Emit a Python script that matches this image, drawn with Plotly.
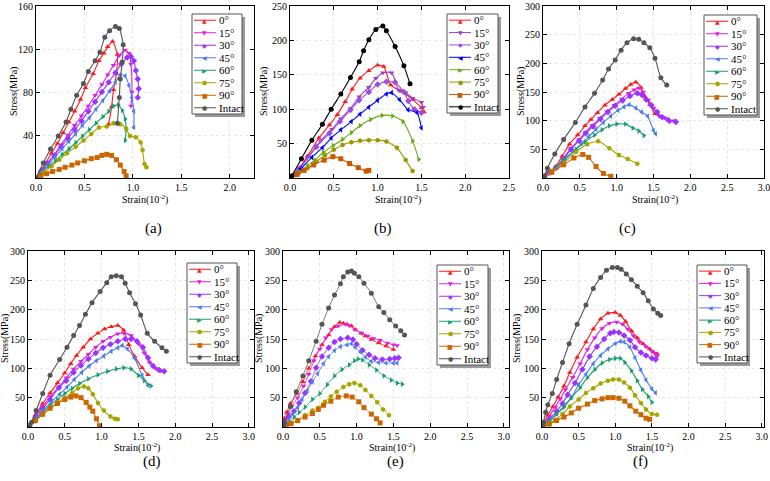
import plotly.graph_objects as go

NAMES = ["0°", "15°", "30°", "45°", "60°", "75°", "90°", "Intact"]
SYMBOLS = ["triangle-up", "triangle-down", "diamond", "triangle-left",
           "triangle-right", "hexagon", "square", "circle"]
GLYPHS = ["▲", "▼", "◆", "◀", "▶", "⬢", "■", "●"]
COLORS_STD = ["#FF1A1A", "#DD22DD", "#9933FF", "#4C7CF0", "#1A9E6E", "#A6A600", "#CC6600", "#555555"]
COLORS_B = ["#FF1A1A", "#9A3FD0", "#9C4DE0", "#0000FF", "#66AA11", "#9A9A00", "#CC5500", "#000000"]

# ---------------- panel (a) ----------------
A_DATA = {
    "0°": ([0, 0.05, 0.1, 0.16, 0.22, 0.28, 0.34, 0.4, 0.46, 0.51, 0.59, 0.65, 0.7, 0.74, 0.79, 0.84, 0.83, 0.80, 0.78, 0.75],
           [0, 7, 14, 23, 32, 42, 52, 62, 73, 84, 97, 109, 116, 122, 127, 115, 97, 82, 66, 50]),
    "15°": ([0, 0.06, 0.12, 0.19, 0.26, 0.33, 0.4, 0.47, 0.54, 0.61, 0.68, 0.74, 0.8, 0.86, 0.92, 0.96, 0.98, 0.99, 0.98],
            [0, 7, 14, 22, 31, 40, 49, 58, 67, 77, 87, 96, 105, 114, 119, 116, 106, 80, 67]),
    "30°": ([0, 0.06, 0.12, 0.19, 0.26, 0.33, 0.4, 0.47, 0.54, 0.61, 0.68, 0.75, 0.82, 0.88, 0.94, 0.98, 1.01, 1.03, 1.05, 1.06, 1.05],
            [0, 7, 14, 21, 29, 37, 45, 53, 62, 71, 80, 89, 98, 106, 112, 113, 109, 100, 92, 83, 75]),
    "45°": ([0, 0.06, 0.13, 0.2, 0.27, 0.34, 0.41, 0.48, 0.55, 0.62, 0.69, 0.76, 0.82, 0.87, 0.92, 0.96, 0.99, 1.01, 1.01],
            [0, 6, 13, 20, 27, 34, 41, 49, 56, 64, 72, 81, 89, 96, 95, 86, 75, 62, 47]),
    "60°": ([0, 0.06, 0.13, 0.2, 0.27, 0.34, 0.41, 0.48, 0.55, 0.62, 0.69, 0.75, 0.8, 0.85, 0.89, 0.92, 0.93, 0.92],
            [0, 5, 11, 16, 22, 27, 33, 39, 45, 51, 57, 62, 67, 68, 63, 55, 45, 35]),
    "75°": ([0, 0.08, 0.16, 0.24, 0.32, 0.41, 0.49, 0.57, 0.65, 0.73, 0.8, 0.87, 0.93, 0.97, 1.03, 1.08, 1.1, 1.12, 1.14],
            [0, 5, 11, 17, 23, 29, 35, 41, 47, 48, 51, 50, 46, 39, 38, 33, 26, 13, 10]),
    "90°": ([0, 0.05, 0.11, 0.17, 0.24, 0.3, 0.37, 0.43, 0.5, 0.57, 0.63, 0.68, 0.73, 0.78, 0.83, 0.87, 0.91, 0.93],
            [0, 2, 4, 6, 8, 10, 12, 14, 16, 18, 19, 21, 22, 21, 17, 12, 6, 2]),
    "Intact": ([0, 0.075, 0.15, 0.23, 0.31, 0.36, 0.42, 0.49, 0.54, 0.61, 0.66, 0.71, 0.76, 0.82, 0.86, 0.9, 0.89, 0.87, 0.86, 0.84],
               [0, 14, 27, 39, 52, 64, 77, 88, 99, 109, 117, 131, 137, 141, 139, 124, 108, 92, 75, 51]),
}

# ---------------- panel (b) ----------------
B_DATA = {
    "0°": ([0.02, 0.1, 0.2, 0.33, 0.45, 0.54, 0.63, 0.71, 0.8, 0.9, 1.0, 1.07, 1.15, 1.27, 1.4, 1.5, 1.53],
           [3, 14, 32, 58, 77, 92, 111, 129, 145, 156, 164, 162, 135, 126, 114, 102, 96]),
    "15°": ([0.02, 0.1, 0.2, 0.35, 0.48, 0.58, 0.69, 0.79, 0.9, 0.98, 1.06, 1.16, 1.24, 1.32, 1.4, 1.5, 1.52],
            [3, 13, 30, 54, 71, 86, 101, 118, 132, 145, 153, 153, 128, 124, 116, 110, 103]),
    "30°": ([0.02, 0.12, 0.3, 0.45, 0.57, 0.69, 0.79, 0.9, 1.0, 1.1, 1.2, 1.3, 1.35, 1.42, 1.5],
            [3, 15, 45, 65, 82, 99, 113, 125, 136, 140, 139, 125, 112, 100, 95]),
    "45°": ([0.02, 0.12, 0.25, 0.37, 0.47, 0.58, 0.7, 0.8, 0.9, 1.0, 1.1, 1.16, 1.25, 1.35, 1.45, 1.5],
            [2, 13, 30, 44, 58, 70, 82, 93, 103, 113, 122, 124, 114, 99, 95, 73]),
    "60°": ([0.02, 0.1, 0.2, 0.28, 0.38, 0.49, 0.6, 0.7, 0.8, 0.92, 1.05, 1.17, 1.29, 1.4, 1.47],
            [2, 9, 18, 26, 37, 47, 56, 66, 76, 85, 91, 90, 82, 54, 27]),
    "75°": ([0.02, 0.1, 0.2, 0.3, 0.4, 0.5, 0.6, 0.7, 0.8, 0.9, 1.0, 1.1, 1.22, 1.32, 1.4],
            [2, 7, 14, 24, 33, 41, 48, 52, 54, 55, 55, 53, 44, 26, 10]),
    "90°": ([0.02, 0.08, 0.16, 0.27, 0.39, 0.49, 0.58, 0.68, 0.78, 0.87, 0.9],
            [1, 5, 11, 19, 26, 31, 28, 21, 15, 10, 11]),
    "Intact": ([0.02, 0.13, 0.25, 0.37, 0.47, 0.58, 0.69, 0.79, 0.84, 0.9, 0.98, 1.06, 1.1, 1.2, 1.3, 1.37],
               [3, 28, 55, 78, 100, 122, 146, 169, 185, 201, 216, 221, 214, 191, 163, 137]),
}

# ---------------- panel (c) ----------------
C_DATA = {
    "0°": ([0.02, 0.08, 0.17, 0.26, 0.36, 0.47, 0.57, 0.65, 0.74, 0.84, 0.94, 1.03, 1.12, 1.19, 1.26, 1.33, 1.38, 1.45, 1.52, 1.6],
           [3, 10, 20, 38, 59, 75, 91, 102, 114, 127, 137, 146, 156, 163, 167, 158, 142, 128, 112, 107]),
    "15°": ([0.02, 0.08, 0.18, 0.28, 0.38, 0.49, 0.58, 0.67, 0.77, 0.87, 0.97, 1.07, 1.16, 1.24, 1.3, 1.36, 1.43, 1.5, 1.58, 1.65, 1.72, 1.78, 1.81],
            [3, 9, 19, 35, 52, 67, 80, 92, 104, 116, 127, 138, 148, 154, 157, 150, 136, 122, 108, 105, 98, 100, 97]),
    "30°": ([0.02, 0.08, 0.18, 0.28, 0.38, 0.49, 0.58, 0.68, 0.78, 0.88, 0.98, 1.08, 1.18, 1.28, 1.34, 1.4, 1.47, 1.55, 1.62, 1.7, 1.8],
            [3, 9, 18, 33, 50, 65, 78, 90, 103, 115, 126, 135, 143, 148, 145, 137, 127, 115, 106, 101, 98]),
    "45°": ([0.02, 0.1, 0.2, 0.3, 0.42, 0.52, 0.62, 0.72, 0.82, 0.92, 1.02, 1.1, 1.17, 1.26, 1.34, 1.42, 1.5, 1.53],
            [2, 9, 19, 32, 47, 60, 72, 85, 97, 108, 118, 124, 128, 122, 115, 108, 83, 77]),
    "60°": ([0.02, 0.12, 0.28, 0.45, 0.57, 0.7, 0.8, 0.9, 1.0, 1.12, 1.22, 1.3, 1.37],
            [2, 12, 32, 50, 63, 75, 84, 91, 94, 94, 87, 82, 74]),
    "75°": ([0.02, 0.12, 0.28, 0.45, 0.6, 0.75, 0.9, 1.03, 1.15, 1.28],
            [2, 12, 26, 46, 59, 64, 52, 40, 33, 25]),
    "90°": ([0.02, 0.12, 0.28, 0.42, 0.54, 0.62, 0.72, 0.82, 0.92],
            [2, 10, 23, 35, 41, 36, 20, 8, 3]),
    "Intact": ([0.02, 0.06, 0.16, 0.28, 0.44, 0.57, 0.7, 0.81, 0.89, 0.98, 1.06, 1.14, 1.23, 1.3, 1.37, 1.45, 1.52, 1.6, 1.68],
               [3, 17, 42, 67, 97, 124, 148, 171, 190, 206, 223, 236, 243, 242, 236, 227, 209, 175, 162]),
}

# ---------------- panel (d) ----------------
D_DATA = {
    "0°": ([0.02, 0.1, 0.2, 0.3, 0.4, 0.5, 0.58, 0.66, 0.75, 0.85, 0.95, 1.04, 1.13, 1.22, 1.3, 1.37, 1.45, 1.55, 1.63],
           [3, 20, 40, 58, 75, 92, 108, 122, 136, 150, 160, 167, 171, 173, 165, 140, 120, 101, 89]),
    "15°": ([0.02, 0.1, 0.2, 0.3, 0.42, 0.52, 0.62, 0.72, 0.82, 0.92, 1.02, 1.12, 1.22, 1.3, 1.4, 1.5, 1.58, 1.65, 1.73, 1.8, 1.84],
            [3, 18, 35, 52, 68, 84, 99, 112, 124, 136, 146, 153, 159, 160, 156, 142, 126, 110, 100, 96, 95]),
    "30°": ([0.02, 0.1, 0.2, 0.3, 0.42, 0.52, 0.62, 0.72, 0.82, 0.92, 1.02, 1.12, 1.22, 1.32, 1.4, 1.48, 1.56, 1.63, 1.7, 1.78, 1.85],
            [3, 16, 32, 47, 67, 79, 93, 105, 116, 126, 135, 141, 146, 150, 150, 146, 136, 118, 104, 97, 95]),
    "45°": ([0.02, 0.1, 0.2, 0.32, 0.43, 0.53, 0.63, 0.73, 0.83, 0.93, 1.03, 1.13, 1.22, 1.28, 1.35, 1.45, 1.55, 1.63],
            [3, 14, 28, 43, 56, 68, 81, 93, 104, 113, 121, 129, 135, 139, 133, 117, 88, 71]),
    "60°": ([0.02, 0.1, 0.2, 0.3, 0.4, 0.5, 0.6, 0.7, 0.82, 0.95, 1.08, 1.2, 1.3, 1.4, 1.5, 1.58, 1.67],
            [2, 12, 25, 37, 47, 57, 66, 74, 82, 89, 95, 99, 101, 99, 88, 79, 70]),
    "75°": ([0.02, 0.1, 0.2, 0.3, 0.4, 0.5, 0.6, 0.68, 0.76, 0.82, 0.88, 0.95, 1.03, 1.12, 1.18, 1.22],
            [2, 10, 21, 32, 42, 50, 58, 66, 69, 66, 56, 41, 28, 18, 14, 13]),
    "90°": ([0.02, 0.1, 0.2, 0.3, 0.4, 0.5, 0.58, 0.65, 0.72, 0.79, 0.84, 0.88, 0.93, 0.97],
            [2, 11, 22, 32, 40, 47, 51, 53, 50, 42, 34, 27, 14, 2]),
    "Intact": ([0.02, 0.05, 0.11, 0.2, 0.3, 0.43, 0.53, 0.62, 0.7, 0.78, 0.87, 0.98, 1.07, 1.13, 1.2, 1.27, 1.32, 1.38, 1.46, 1.53, 1.62, 1.72, 1.82, 1.88],
               [3, 8, 28, 57, 88, 115, 136, 156, 173, 192, 212, 231, 246, 256, 258, 256, 245, 229, 210, 191, 160, 146, 135, 129]),
}

# ---------------- panel (e) ----------------
E_DATA = {
    "0°": ([0.01, 0.02, 0.05, 0.1, 0.19, 0.27, 0.35, 0.44, 0.53, 0.62, 0.7, 0.77, 0.82, 0.87, 0.93, 0.98, 1.06, 1.12, 1.2, 1.3, 1.4, 1.5],
           [5, 15, 25, 40, 57, 77, 100, 121, 140, 157, 171, 178, 177, 175, 172, 166, 160, 155, 149, 143, 138, 132]),
    "15°": ([0.01, 0.03, 0.07, 0.12, 0.2, 0.28, 0.35, 0.42, 0.5, 0.58, 0.66, 0.75, 0.85, 0.9, 0.98, 1.07, 1.15, 1.23, 1.32, 1.42, 1.5, 1.55],
            [4, 12, 22, 35, 50, 70, 90, 113, 133, 152, 166, 172, 175, 173, 166, 160, 155, 151, 148, 143, 140, 139]),
    "30°": ([0.01, 0.03, 0.08, 0.15, 0.22, 0.3, 0.38, 0.45, 0.53, 0.62, 0.7, 0.78, 0.88, 0.95, 1.0, 1.08, 1.17, 1.25, 1.35, 1.45, 1.52, 1.57],
            [3, 8, 17, 27, 41, 58, 78, 101, 120, 135, 145, 150, 152, 149, 141, 131, 123, 117, 115, 116, 117, 118]),
    "45°": ([0.01, 0.03, 0.08, 0.13, 0.2, 0.26, 0.33, 0.4, 0.47, 0.55, 0.62, 0.7, 0.78, 0.87, 0.93, 0.98, 1.05, 1.12, 1.2, 1.3, 1.4, 1.5, 1.55],
            [2, 6, 13, 22, 33, 47, 62, 77, 91, 108, 120, 130, 137, 140, 142, 136, 128, 119, 112, 110, 109, 109, 109]),
    "60°": ([0.01, 0.04, 0.09, 0.15, 0.22, 0.3, 0.4, 0.5, 0.6, 0.7, 0.8, 0.9, 0.97, 1.02, 1.08, 1.17, 1.27, 1.37, 1.47, 1.55, 1.62],
            [1, 4, 9, 17, 25, 34, 47, 57, 72, 87, 98, 106, 113, 116, 114, 106, 97, 87, 80, 75, 73]),
    "75°": ([0.01, 0.05, 0.11, 0.2, 0.3, 0.4, 0.48, 0.57, 0.65, 0.73, 0.82, 0.9, 0.97, 1.05, 1.12, 1.2, 1.28, 1.36, 1.44],
            [1, 3, 7, 12, 20, 28, 33, 43, 52, 60, 68, 73, 75, 71, 63, 53, 42, 30, 20]),
    "90°": ([0.01, 0.05, 0.11, 0.2, 0.3, 0.4, 0.48, 0.55, 0.65, 0.75, 0.86, 0.94, 1.03, 1.1, 1.2, 1.27, 1.32],
            [1, 3, 6, 11, 17, 23, 30, 37, 44, 51, 53, 51, 43, 33, 22, 14, 7]),
    "Intact": ([0.01, 0.02, 0.1, 0.18, 0.27, 0.35, 0.45, 0.53, 0.62, 0.7, 0.78, 0.82, 0.88, 0.93, 0.97, 1.03, 1.1, 1.2, 1.3, 1.37, 1.45, 1.53, 1.6, 1.65],
               [3, 8, 35, 60, 87, 113, 146, 175, 203, 225, 244, 256, 264, 266, 262, 256, 245, 228, 205, 195, 183, 172, 164, 157]),
}

# ---------------- panel (f) ----------------
F_DATA = {
    "0°": ([0.01, 0.03, 0.08, 0.15, 0.22, 0.3, 0.38, 0.48, 0.6, 0.7, 0.8, 0.9, 1.0, 1.07, 1.14, 1.22, 1.3, 1.38, 1.47, 1.52, 1.57],
           [2, 8, 20, 35, 51, 70, 93, 119, 145, 167, 184, 194, 195, 190, 180, 164, 152, 142, 133, 128, 125]),
    "15°": ([0.01, 0.04, 0.1, 0.18, 0.25, 0.32, 0.42, 0.52, 0.62, 0.72, 0.82, 0.92, 1.02, 1.1, 1.17, 1.25, 1.33, 1.42, 1.5, 1.55, 1.57],
            [2, 7, 18, 34, 48, 64, 85, 108, 132, 152, 168, 177, 179, 175, 167, 155, 145, 137, 129, 124, 120]),
    "30°": ([0.01, 0.04, 0.1, 0.2, 0.28, 0.35, 0.45, 0.55, 0.65, 0.75, 0.85, 0.93, 0.98, 1.05, 1.12, 1.2, 1.27, 1.35, 1.42, 1.5, 1.55],
            [1, 5, 13, 27, 40, 55, 75, 98, 120, 137, 150, 160, 162, 161, 156, 148, 136, 127, 122, 117, 115]),
    "45°": ([0.01, 0.04, 0.1, 0.2, 0.3, 0.4, 0.5, 0.6, 0.7, 0.8, 0.9, 1.0, 1.07, 1.12, 1.2, 1.27, 1.35, 1.42, 1.5, 1.55],
            [1, 4, 10, 22, 36, 50, 72, 90, 108, 122, 133, 142, 146, 145, 136, 118, 97, 80, 65, 58]),
    "60°": ([0.01, 0.04, 0.1, 0.2, 0.3, 0.4, 0.52, 0.62, 0.72, 0.82, 0.92, 1.0, 1.07, 1.13, 1.22, 1.3, 1.37, 1.45, 1.5],
            [1, 4, 10, 22, 34, 50, 67, 84, 98, 109, 115, 117, 117, 110, 96, 79, 64, 52, 42]),
    "75°": ([0.01, 0.08, 0.18, 0.28, 0.38, 0.5, 0.6, 0.7, 0.8, 0.9, 0.97, 1.05, 1.12, 1.2, 1.27, 1.35, 1.42, 1.5, 1.57],
            [1, 5, 12, 22, 35, 47, 58, 66, 74, 79, 81, 81, 76, 67, 54, 41, 30, 22, 21]),
    "90°": ([0.01, 0.1, 0.2, 0.3, 0.4, 0.5, 0.62, 0.72, 0.82, 0.9, 0.97, 1.05, 1.13, 1.2, 1.28, 1.35, 1.42, 1.47],
            [1, 5, 11, 17, 24, 32, 39, 45, 48, 50, 50, 49, 44, 36, 27, 21, 15, 13]),
    "Intact": ([0.01, 0.02, 0.05, 0.08, 0.14, 0.2, 0.28, 0.37, 0.48, 0.6, 0.7, 0.8, 0.88, 0.96, 1.03, 1.08, 1.15, 1.22, 1.3, 1.38, 1.45, 1.52, 1.58, 1.62],
               [2, 8, 25, 38, 57, 81, 110, 142, 175, 208, 236, 255, 267, 272, 272, 269, 261, 251, 240, 229, 215, 201, 194, 190]),
}

X_TITLE = "Strain(10<sup>-2</sup>)"
Y_TITLE = "Stress(MPa)"
CAPTIONS = ["(a)", "(b)", "(c)", "(d)", "(e)", "(f)"]
X_RANGES = [[0, 2.25], [0, 2.5], [0, 3.0], [0, 3.07], [0, 3.07], [0, 3.03]]
Y_RANGES = [[0, 160], [0, 250], [0, 300], [0, 300], [0, 300], [0, 300]]
Y_TICKS = [[40, 80, 120, 160], [50, 100, 150, 200, 250], [50, 100, 150, 200, 250, 300],
           [50, 100, 150, 200, 250, 300], [50, 100, 150, 200, 250, 300], [50, 100, 150, 200, 250, 300]]
X_TICKS = [[0, 0.5, 1.0, 1.5, 2.0], [0, 0.5, 1.0, 1.5, 2.0, 2.5], [0, 0.5, 1.0, 1.5, 2.0, 2.5, 3.0],
           [0, 0.5, 1.0, 1.5, 2.0, 2.5, 3.0], [0, 0.5, 1.0, 1.5, 2.0, 2.5, 3.0], [0, 0.5, 1.0, 1.5, 2.0, 2.5, 3.0]]

W, H = 770, 481
FONT = "Liberation Serif"

# layout geometry in pixels
BOXES = [(36, 254, 6, 178), (290, 509, 6, 178), (543, 764, 6, 178),
         (28, 254, 251, 427), (283, 509, 251, 427), (542, 764, 251, 427)]
CAPTION_POS = [(143, 228), (383, 228), (638, 228), (141, 472), (395, 472), (650, 472)]
XTITLE_POS = [(145, 199), (398, 199), (655, 199), (137, 447), (392, 447), (650, 447)]
YTITLE_X = [14, 264, 521, 5, 259, 517]
LEGEND_BOX = [(192, 14, 242, 114), (447, 14, 498, 113), (704, 15, 757, 115),
              (187, 263, 237, 363), (437, 265, 488, 365), (697, 265, 747, 363)]

panels = [A_DATA, B_DATA, C_DATA, D_DATA, E_DATA, F_DATA]


def px(x):
    return x / W


def py(y):
    return 1 - y / H


fig = go.Figure()
layout = dict(width=W, height=H, margin=dict(l=0, r=0, t=0, b=0, autoexpand=False),
              paper_bgcolor="white", plot_bgcolor="white",
              font=dict(family=FONT, size=10, color="black"), showlegend=False)
annotations = []
shapes = []

for i, data in enumerate(panels):
    n = i + 1
    xa = "x" if n == 1 else f"x{n}"
    ya = "y" if n == 1 else f"y{n}"
    colors = COLORS_B if i == 1 else COLORS_STD
    lw = 0.8 if i == 4 else 1.1
    for k, name in enumerate(NAMES):
        xs, ys = data[name]
        fig.add_trace(go.Scatter(
            x=xs, y=ys, name=name, mode="lines+markers", xaxis=xa, yaxis=ya,
            line=dict(color=colors[k], width=lw, shape="spline", smoothing=0.6),
            marker=dict(symbol=SYMBOLS[k], size=5, color=colors[k]),
        ))
    l, r, t, b = BOXES[i]
    common = dict(showline=True, linecolor="black", linewidth=1, mirror="allticks",
                  ticks="inside", ticklen=4, tickcolor="black", automargin=False,
                  ticklabeloverflow="allow",
                  showgrid=True, gridcolor="#E6E6E6", griddash="dot", gridwidth=1,
                  zeroline=False, tickfont=dict(size=10, family=FONT))
    layout["xaxis" if n == 1 else f"xaxis{n}"] = dict(
        domain=[px(l), px(r)], anchor=ya, range=X_RANGES[i], tickvals=X_TICKS[i],
        ticktext=[f"{v:.1f}" for v in X_TICKS[i]], **common)
    layout["yaxis" if n == 1 else f"yaxis{n}"] = dict(
        domain=[py(b), py(t)], anchor=xa, range=Y_RANGES[i], tickvals=Y_TICKS[i], **common)

    # axis titles
    tx, ty = XTITLE_POS[i]
    annotations.append(dict(text=X_TITLE, x=px(tx), y=py(ty), xref="paper", yref="paper",
                            showarrow=False, xanchor="center", yanchor="middle",
                            font=dict(size=10, family=FONT)))
    annotations.append(dict(text=Y_TITLE, x=px(YTITLE_X[i]), y=py((t + b) / 2), xref="paper", yref="paper",
                            showarrow=False, xanchor="center", yanchor="middle", textangle=-90,
                            font=dict(size=10, family=FONT)))

    # custom compact legend (frame + shadow + entries)
    bl, bt, br, bb = LEGEND_BOX[i]
    shapes.append(dict(type="rect", xref="paper", yref="paper",
                       x0=px(bl + 3), x1=px(br + 3), y0=py(bb + 3), y1=py(bt + 3),
                       fillcolor="#9A9A9A", line=dict(width=0), layer="above"))
    shapes.append(dict(type="rect", xref="paper", yref="paper",
                       x0=px(bl), x1=px(br), y0=py(bb), y1=py(bt),
                       fillcolor="white", line=dict(color="#555555", width=1), layer="above"))
    step = (bb - bt) / len(NAMES)
    for k, name in enumerate(NAMES):
        yc = bt + step * (k + 0.5)
        shapes.append(dict(type="line", xref="paper", yref="paper",
                           x0=px(bl + 2), x1=px(bl + 24), y0=py(yc), y1=py(yc),
                           line=dict(color=colors[k], width=1), layer="above"))
        annotations.append(dict(text=GLYPHS[k], x=px(bl + 13), y=py(yc), xref="paper", yref="paper",
                                showarrow=False, xanchor="center", yanchor="middle",
                                font=dict(size=6, family="DejaVu Sans", color=colors[k])))
        annotations.append(dict(text=name, x=px(bl + 25), y=py(yc), xref="paper", yref="paper",
                                showarrow=False, xanchor="left", yanchor="middle",
                                font=dict(size=11, family=FONT, color="black")))

    cx, cy = CAPTION_POS[i]
    annotations.append(dict(text=CAPTIONS[i], x=px(cx), y=py(cy), xref="paper", yref="paper",
                            showarrow=False, font=dict(size=15, family=FONT)))

layout["annotations"] = annotations
layout["shapes"] = shapes
fig.update_layout(**layout)
fig.write_html("out.html")
